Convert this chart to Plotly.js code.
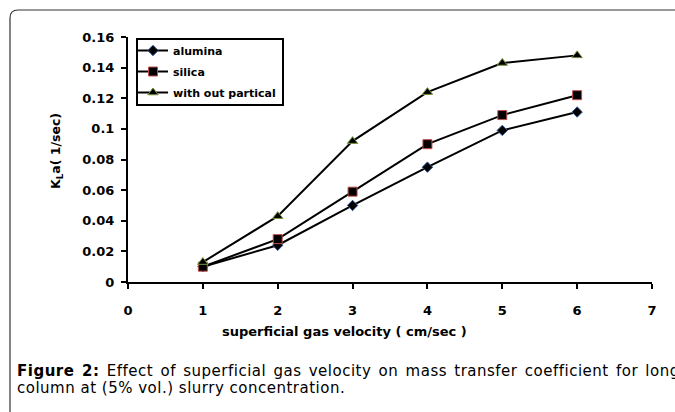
<!DOCTYPE html>
<html>
<head>
<meta charset="utf-8">
<script src="https://cdn.plot.ly/plotly-3.0.1.min.js"></script>
<style>
html,body{margin:0;padding:0;background:#fff;}
#chart{width:675px;height:412px;}
#chart g.annotation[data-index="2"] text{letter-spacing:0.5px;word-spacing:2px;}
#chart g.annotation[data-index="3"] text{letter-spacing:0.5px;}
</style>
</head>
<body>
<div id="chart"></div>
<script>
var velocity = [1, 2, 3, 4, 5, 6];
var alumina = [0.010, 0.024, 0.050, 0.075, 0.099, 0.111];
var silica = [0.010, 0.028, 0.059, 0.090, 0.109, 0.122];
var withoutPartical = [0.013, 0.043, 0.092, 0.124, 0.143, 0.148];
var seriesNames = ['alumina', 'silica', 'with out partical'];
var yTicks = [0, 0.02, 0.04, 0.06, 0.08, 0.1, 0.12, 0.14, 0.16];
var yTickText = ['0', '0.02', '0.04', '0.06', '0.08', '0.1', '0.12', '0.14', '0.16'];
var xTicks = [0, 1, 2, 3, 4, 5, 6, 7];

var L = 128, R = 652, T = 37, B = 282;
function px(x) { return (x - L) / (R - L); }
function py(y) { return (B - y) / (B - T); }

var tickFont = {family: 'DejaVu Sans', size: 13, color: '#000', weight: 'bold'};

var traces = [
  {x: velocity, y: alumina, name: seriesNames[0], legendgroup: 'a', mode: 'lines+markers',
   line: {color: '#000', width: 2},
   marker: {symbol: 'diamond', size: 8, color: '#000', line: {color: '#2f5597', width: 1}}},
  {x: velocity, y: silica, name: seriesNames[1], legendgroup: 'b', mode: 'lines+markers',
   line: {color: '#000', width: 2},
   marker: {symbol: 'square', size: 9, color: '#000', line: {color: '#c0504d', width: 1}}},
  {x: velocity, y: withoutPartical, name: seriesNames[2], legendgroup: 'c', mode: 'lines+markers',
   line: {color: '#000', width: 2},
   marker: {symbol: 'triangle-up', size: 9, color: '#000', line: {color: '#77933c', width: 1}}}
];

var layout = {
  width: 675, height: 412,
  margin: {l: L, r: 675 - R, t: T, b: 412 - B, pad: 0},
  paper_bgcolor: '#fff', plot_bgcolor: '#fff',
  showlegend: true,
  legend: {x: px(133), y: py(36), xanchor: 'left', yanchor: 'top',
           borderwidth: 0, bgcolor: 'rgba(0,0,0,0)',
           font: {family: 'DejaVu Sans', size: 11, color: '#000', weight: 'bold'},
           tracegroupgap: 2, itemwidth: 30},
  xaxis: {range: [0, 7], tickvals: xTicks, showgrid: false, zeroline: false,
          showline: true, linecolor: '#000', linewidth: 2,
          ticks: 'outside', ticklen: 5, tickwidth: 2, tickcolor: '#000',
          tickfont: tickFont, ticklabelstandoff: 10, fixedrange: true},
  yaxis: {range: [0, 0.16], tickvals: yTicks, ticktext: yTickText, showgrid: false, zeroline: false,
          showline: true, linecolor: '#000', linewidth: 2,
          ticks: 'outside', ticklen: 5, tickwidth: 2, tickcolor: '#000',
          tickfont: tickFont, ticklabelstandoff: 4, fixedrange: true},
  shapes: [
    {type: 'path', xref: 'paper', yref: 'paper',
     path: 'M ' + px(10) + ' ' + py(412) + ' L ' + px(10) + ' ' + py(18) +
           ' Q ' + px(10) + ' ' + py(10) + ' ' + px(18) + ' ' + py(10) +
           ' L ' + px(680) + ' ' + py(10),
     line: {color: '#333', width: 1.2}},
    {type: 'rect', xref: 'paper', yref: 'paper', layer: 'above',
     x0: px(137), x1: px(283), y0: py(39), y1: py(105),
     line: {color: '#000', width: 2}}
  ],
  annotations: [
    {xref: 'paper', yref: 'paper', x: px(56), y: py(151), text: 'K<sub>L</sub>a( 1/sec)',
     textangle: -90, showarrow: false, xanchor: 'center', yanchor: 'middle',
     font: {family: 'DejaVu Sans', size: 12.5, color: '#000', weight: 'bold'}},
    {xref: 'paper', yref: 'paper', x: px(344), y: py(331), text: 'superficial gas velocity ( cm/sec )',
     showarrow: false, xanchor: 'center', yanchor: 'middle',
     font: {family: 'DejaVu Sans', size: 13, color: '#000', weight: 'bold'}},
    {xref: 'paper', yref: 'paper', x: px(15), y: py(371), text: '<b>Figure 2:</b> Effect of superficial gas velocity on mass transfer coefficient for long',
     showarrow: false, xanchor: 'left', yanchor: 'middle', align: 'left',
     font: {family: 'DejaVu Sans', size: 15, color: '#000'}},
    {xref: 'paper', yref: 'paper', x: px(15), y: py(388), text: 'column at (5% vol.) slurry concentration.',
     showarrow: false, xanchor: 'left', yanchor: 'middle', align: 'left',
     font: {family: 'DejaVu Sans', size: 15, color: '#000'}}
  ]
};

Plotly.newPlot('chart', traces, layout, {displayModeBar: false, staticPlot: true});
</script>
</body>
</html>
